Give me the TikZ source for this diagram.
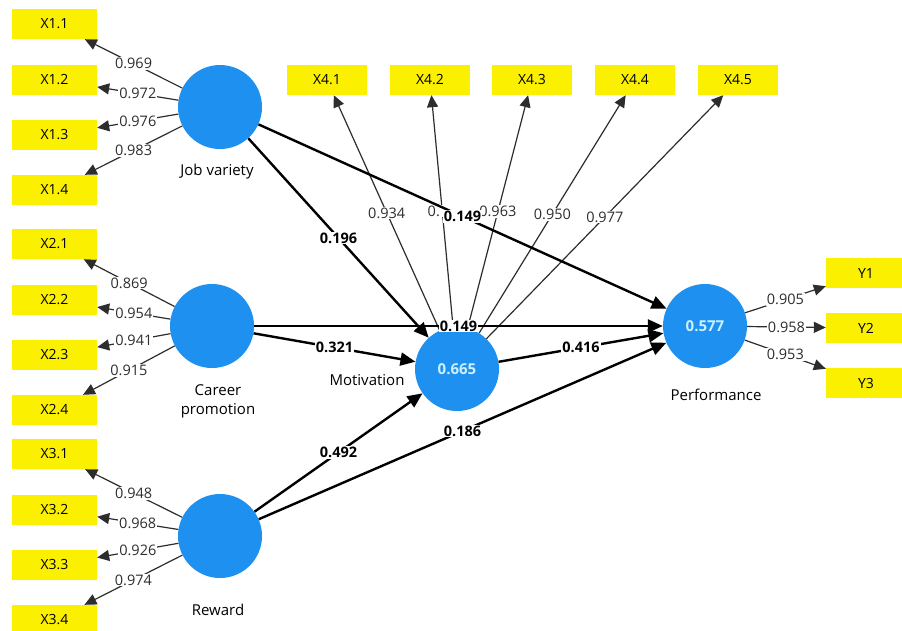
\documentclass[tikz,border=0pt]{standalone}
\usepackage{fontspec}
\setmainfont{Open Sans}
\usetikzlibrary{arrows.meta}
\definecolor{ybox}{RGB}{250,240,0}
\definecolor{lv}{RGB}{30,144,240}
\definecolor{valtxt}{RGB}{205,240,255}
\definecolor{ld}{RGB}{45,45,45}
\begin{document}
\begin{tikzpicture}[x=1pt,y=-1pt,
 ind/.style={fill=ybox, minimum width=85pt, minimum height=30pt, inner sep=0pt, font=\fontsize{14}{16}\selectfont},
 indt/.style={ind, minimum width=80pt},
 lat/.style={circle, fill=lv, minimum size=84pt, inner sep=0pt, text=valtxt, font=\fontsize{15}{17}\selectfont\bfseries},
 load/.style={draw=ld, line width=1.2pt, -{Triangle[length=12pt,width=11pt]}},
 pth/.style={draw=black, line width=2.4pt, -{Triangle[length=15pt,width=13pt]}},
 ll/.style={fill=white, inner sep=1pt, font=\fontsize{14.5}{16}\selectfont, text=ld},
 pl/.style={fill=white, inner sep=1pt, font=\fontsize{14.5}{16}\selectfont\bfseries},
 lname/.style={font=\fontsize{15}{19}\selectfont, align=center}]
\clip (0,0) rectangle (902,630);
\fill[white] (0,0) rectangle (902,630);
% indicators
\node[ind] (x11) at (54.5,24) {X1.1};
\node[ind] (x12) at (54.5,80) {X1.2};
\node[ind] (x13) at (54.5,135) {X1.3};
\node[ind] (x14) at (54.5,190) {X1.4};
\node[ind] (x21) at (54.5,244) {X2.1};
\node[ind] (x22) at (54.5,300) {X2.2};
\node[ind] (x23) at (54.5,355) {X2.3};
\node[ind] (x24) at (54.5,410) {X2.4};
\node[ind] (x31) at (54.5,454) {X3.1};
\node[ind] (x32) at (54.5,510) {X3.2};
\node[ind] (x33) at (54.5,565) {X3.3};
\node[ind] (x34) at (54.5,620) {X3.4};
\node[indt] (x41) at (327,80) {X4.1};
\node[indt] (x42) at (430,80) {X4.2};
\node[indt] (x43) at (532,80) {X4.3};
\node[indt] (x44) at (635,80) {X4.4};
\node[indt] (x45) at (738,80) {X4.5};
\node[indt] (y1) at (866,273) {Y1};
\node[indt] (y2) at (866,328) {Y2};
\node[indt] (y3) at (866,383) {Y3};
% latent variables
\node[lat] (jv) at (220,107) {};
\node[lat] (cp) at (212,326) {};
\node[lat] (rw) at (220,536) {};
\node[lat] (mo) at (457,369) {0.665};
\node[lat] (pf) at (705,326) {0.577};
\node[lname] (jvl) at (217,172) {Job variety};
\node[lname] (cpl) at (218,401) {Career\\promotion};
\node[lname] (rwl) at (218,610) {Reward};
\node[lname] (mol) at (367,380) {Motivation};
\node[lname] (pfl) at (716,395) {Performance};
% loadings
\draw[load] (jv) -- node[ll]{0.969} (x11);
\draw[load] (jv) -- node[ll]{0.972} (x12);
\draw[load] (jv) -- node[ll]{0.976} (x13);
\draw[load] (jv) -- node[ll]{0.983} (x14);
\draw[load] (cp) -- node[ll]{0.869} (x21);
\draw[load] (cp) -- node[ll]{0.954} (x22);
\draw[load] (cp) -- node[ll]{0.941} (x23);
\draw[load] (cp) -- node[ll]{0.915} (x24);
\draw[load] (rw) -- node[ll]{0.948} (x31);
\draw[load] (rw) -- node[ll]{0.968} (x32);
\draw[load] (rw) -- node[ll]{0.926} (x33);
\draw[load] (rw) -- node[ll]{0.974} (x34);
\draw[load] (mo) -- node[ll]{0.934} (x41);
\draw[load] (mo) -- node[ll, pos=0.5, xshift=4pt]{0.\phantom{000}} (x42);
\draw[load] (mo) -- node[ll]{0.963} (x43);
\draw[load] (mo) -- node[ll]{0.950} (x44);
\draw[load] (mo) -- node[ll]{0.977} (x45);
\draw[load] (pf) -- node[ll]{0.905} (y1);
\draw[load] (pf) -- node[ll]{0.958} (y2);
\draw[load] (pf) -- node[ll]{0.953} (y3);
% structural paths
\draw[pth] (jv) -- node[pl]{0.196} (mo);
\draw[pth] (jv) -- node[pl]{0.149} (pf);
\draw[pth] (cp) -- node[pl]{0.321} (mo);
\draw[pth] (rw) -- node[pl]{0.492} (mo);
\draw[pth] (rw) -- node[pl]{0.186} (pf);
\draw[pth] (mo) -- node[pl]{0.416} (pf);
\draw[pth] (cp.east) -- node[pl]{0.149} (pf.west);
\end{tikzpicture}
\end{document}
